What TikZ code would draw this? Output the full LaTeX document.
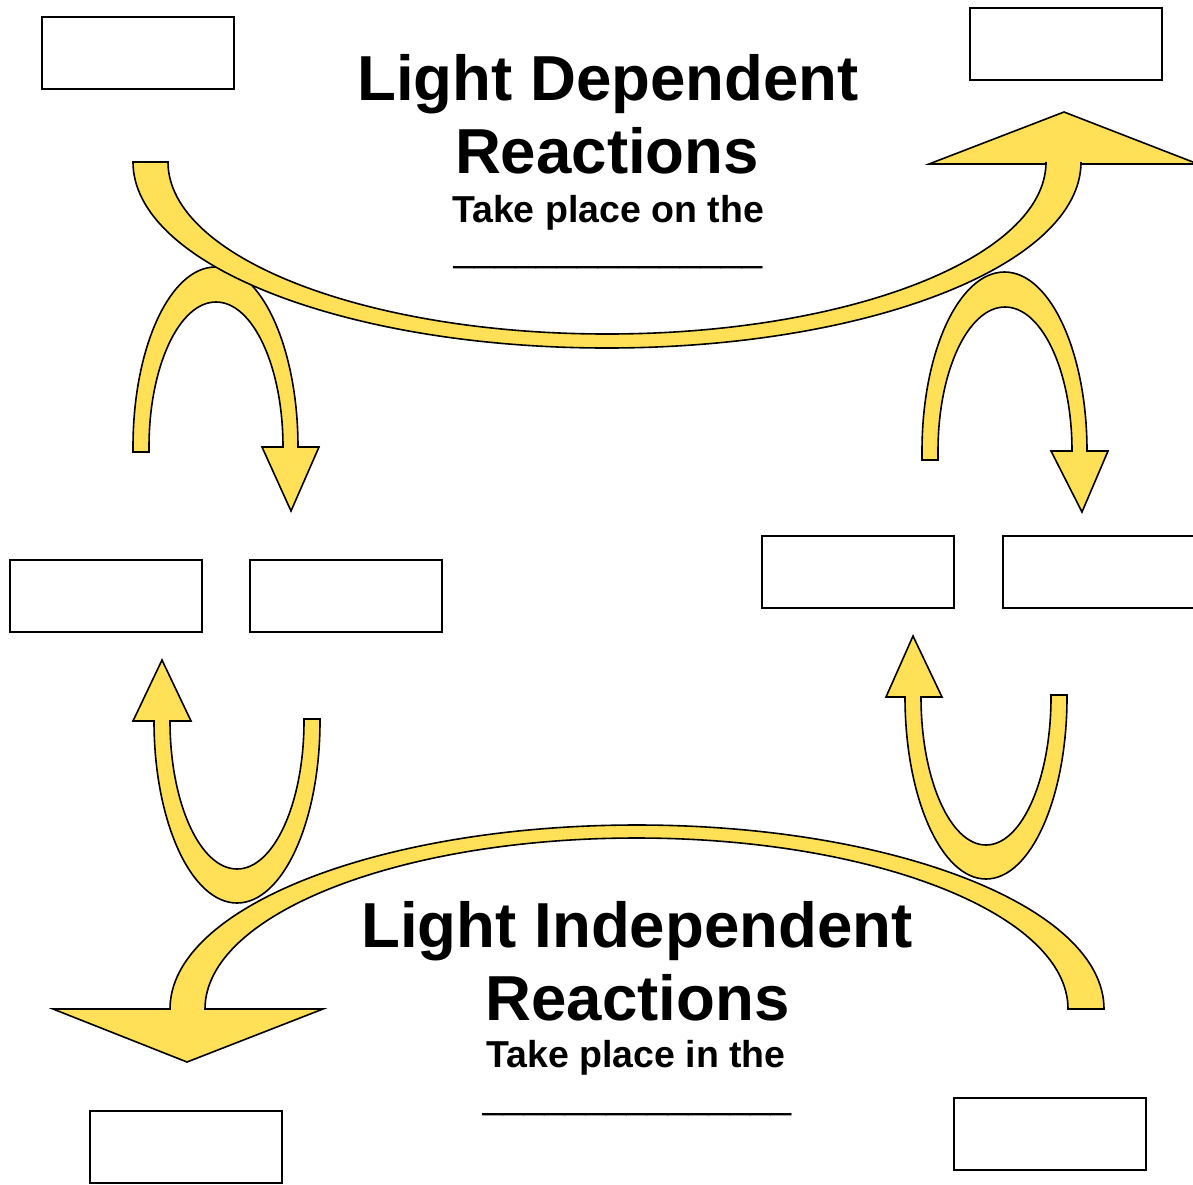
\documentclass[tikz,border=0pt]{standalone}
\usepackage{fontspec}
\setmainfont{Liberation Sans}
\definecolor{arrowyellow}{RGB}{255,224,87}
\tikzset{
  arrowbody/.style={fill=arrowyellow, draw=black, line width=1.6pt, line join=miter},
  blankbox/.style={draw=black, fill=white, line width=2pt, minimum width=192pt,
    minimum height=72pt, inner sep=0pt},
  titletext/.style={anchor=base, inner sep=0pt, font=\fontsize{63.6}{75}\selectfont\bfseries},
  subtext/.style={anchor=base, inner sep=0pt, font=\fontsize{37.5}{44}\selectfont\bfseries},
  ruletext/.style={anchor=base, inner sep=0pt, font=\fontsize{37}{44}\selectfont}
}
\begin{document}
\begin{tikzpicture}[x=1pt,y=1pt]
\useasboundingbox (0,0) rectangle (1193,-1184);
\clip (0,0) rectangle (1193,-1184);

% small cycling arrows (drawn first, the long arcs lie over them)
\draw[arrowbody] (133,-452) -- (133,-447)
  arc[start angle=180,end angle=0,x radius=82.5,y radius=180]
  -- (319,-447) -- (291,-511) -- (262,-447) -- (283,-447)
  arc[start angle=0,end angle=180,x radius=67,y radius=145]
  -- (149,-452) -- cycle;
\draw[arrowbody] (922,-460) -- (922,-451)
  arc[start angle=180,end angle=0,x radius=82.5,y radius=179]
  -- (1108,-451) -- (1082,-512) -- (1051,-451) -- (1072,-451)
  arc[start angle=0,end angle=180,x radius=67,y radius=144]
  -- (938,-460) -- cycle;
\draw[arrowbody] (320,-719) -- (320,-721)
  arc[start angle=0,end angle=-180,x radius=83,y radius=182]
  -- (133,-721) -- (162,-660) -- (191,-721) -- (170,-721)
  arc[start angle=180,end angle=360,x radius=67,y radius=148]
  -- (304,-719) -- cycle;
\draw[arrowbody] (1067,-695) -- (1067,-697)
  arc[start angle=0,end angle=-180,x radius=81,y radius=182]
  -- (886,-697) -- (913,-636) -- (942,-697) -- (921,-697)
  arc[start angle=180,end angle=360,x radius=65,y radius=148]
  -- (1051,-695) -- cycle;

% long arc of the light dependent reactions
\draw[arrowbody] (133,-162)
  arc[start angle=180,end angle=360,x radius=474,y radius=186]
  -- (1081,-164) -- (1198,-164) -- (1064,-112) -- (929,-164) -- (1046,-164) -- (1046,-162)
  arc[start angle=360,end angle=180,x radius=439,y radius=172] -- cycle;

% long arc of the light independent reactions
\draw[arrowbody] (1104,-1009)
  arc[start angle=0,end angle=180,x radius=467,y radius=184]
  -- (53,-1009) -- (187,-1062) -- (323,-1009) -- (205,-1009)
  arc[start angle=180,end angle=0,x radius=431.5,y radius=171] -- cycle;

% empty answer boxes
\node[blankbox] (boxTL) at (138,-53) {};
\node[blankbox] (boxTR) at (1066,-44) {};
\node[blankbox] (boxML1) at (106,-596) {};
\node[blankbox] (boxML2) at (346,-596) {};
\node[blankbox] (boxMR1) at (858,-572) {};
\node[blankbox] (boxMR2) at (1099,-572) {};
\node[blankbox] (boxBL) at (186,-1147) {};
\node[blankbox] (boxBR) at (1050,-1134) {};

% headings
\node[titletext] (ldr1) at (608,-100) {Light Dependent};
\node[titletext] (ldr2) at (607,-173) {Reactions};
\node[subtext] (ldr3) at (608,-222) {Take place on the};
\node[ruletext] (ldr4) at (608,-261) {\_\_\_\_\_\_\_\_\_\_\_\_\_\_\_};

\node[titletext] (lir1) at (637,-947) {Light Independent};
\node[titletext] (lir2) at (637.5,-1020) {Reactions};
\node[subtext] (lir3) at (636,-1067) {Take place in the};
\node[ruletext] (lir4) at (637,-1108) {\_\_\_\_\_\_\_\_\_\_\_\_\_\_\_};
\end{tikzpicture}
\end{document}
